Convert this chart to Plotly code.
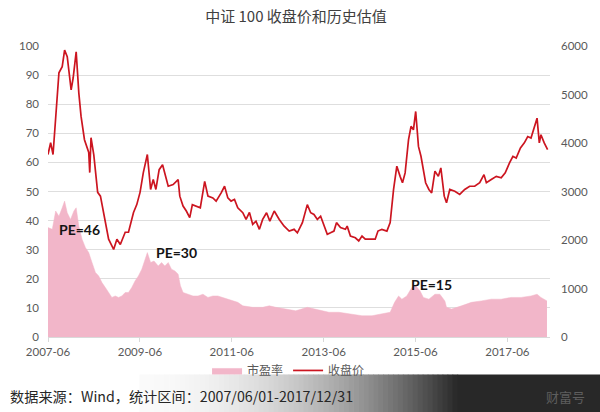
import plotly.graph_objects as go

# ---------------- data ----------------
price_dates = [
    "2007-06-01", "2007-06-22", "2007-07-11", "2007-08-09", "2007-08-27", "2007-09-22",
    "2007-10-11", "2007-11-01", "2007-12-02", "2007-12-18", "2008-01-11", "2008-02-01",
    "2008-02-19", "2008-03-17", "2008-04-20", "2008-04-28", "2008-05-08", "2008-05-30",
    "2008-06-12", "2008-06-30", "2008-07-22", "2008-08-17", "2008-09-12", "2008-09-25",
    "2008-11-04", "2008-11-30", "2008-12-27", "2009-02-04", "2009-03-02", "2009-04-11",
    "2009-05-07", "2009-06-02", "2009-06-28", "2009-07-30", "2009-08-25", "2009-09-15",
    "2009-10-06", "2009-11-01", "2009-11-28", "2009-12-16", "2010-01-12", "2010-02-20",
    "2010-04-01", "2010-04-14", "2010-05-10", "2010-06-05", "2010-07-02", "2010-07-23",
    "2010-08-23", "2010-09-24", "2010-10-29", "2010-11-24", "2011-01-02", "2011-01-28",
    "2011-03-09", "2011-04-05", "2011-05-01", "2011-05-27", "2011-06-23", "2011-07-19",
    "2011-08-28", "2011-09-23", "2011-10-20", "2011-11-15", "2011-12-11", "2012-01-07",
    "2012-02-02", "2012-03-04", "2012-03-30", "2012-05-04", "2012-06-13", "2012-07-22",
    "2012-08-31", "2012-10-09", "2012-11-04", "2012-12-14", "2013-01-22", "2013-02-18",
    "2013-03-16", "2013-04-12", "2013-05-08", "2013-06-04", "2013-06-30", "2013-07-26",
    "2013-08-22", "2013-09-11", "2013-10-13", "2013-11-21", "2013-12-05", "2013-12-31",
    "2014-02-08", "2014-03-07", "2014-04-02", "2014-04-28", "2014-06-07", "2014-07-16",
    "2014-08-07", "2014-09-07", "2014-10-17", "2014-11-12", "2014-12-09", "2015-01-04",
    "2015-01-30", "2015-02-18", "2015-03-11", "2015-04-07", "2015-04-27", "2015-05-16",
    "2015-06-03", "2015-06-25", "2015-07-15", "2015-08-03", "2015-08-21", "2015-09-16",
    "2015-10-08", "2015-11-03", "2015-11-30", "2015-12-20", "2016-01-16", "2016-02-03",
    "2016-02-29", "2016-04-09", "2016-05-18", "2016-06-27", "2016-08-05", "2016-09-14",
    "2016-10-24", "2016-11-27", "2016-12-16", "2017-01-24", "2017-03-05", "2017-04-13",
    "2017-05-15", "2017-06-18", "2017-07-15", "2017-08-10", "2017-09-13", "2017-10-14",
    "2017-11-10", "2017-12-06", "2018-01-01", "2018-01-23", "2018-02-10", "2018-02-23",
    "2018-03-21", "2018-04-17",
]
close_price = [
    3762, 4008, 3762, 4752, 5448, 5574,
    5916, 5778, 5094, 5340, 5880, 5034,
    4548, 4068, 3804, 3390, 4110, 3762,
    3390, 2982, 2904, 2568, 2220, 2016,
    1806, 2016, 1908, 2160, 2160, 2568,
    2730, 2982, 3390, 3762, 3042, 3246,
    3042, 3450, 3552, 3390, 3108, 3144,
    3246, 2904, 2700, 2598, 2460, 2730,
    2700, 2664, 3210, 2904, 2868, 2802,
    2970, 3108, 2868, 2802, 2838, 2664,
    2562, 2424, 2568, 2322, 2388, 2220,
    2424, 2562, 2388, 2598, 2424, 2286,
    2184, 2220, 2148, 2358, 2730, 2562,
    2526, 2424, 2490, 2286, 2118, 2148,
    2184, 2358, 2256, 2220, 2286, 2082,
    2046, 1980, 2082, 2016, 2016, 2016,
    2184, 2220, 2184, 2358, 3042, 3522,
    3312, 3180, 3384, 4068, 4344, 4272,
    4650, 3930, 3726, 3450, 3180, 3042,
    2970, 3420, 3312, 3486, 2904, 2766,
    3042, 3006, 2940, 3042, 3108, 3108,
    3180, 3348, 3180, 3246, 3312, 3282,
    3384, 3588, 3726, 3690, 3900, 4002,
    4134, 4104, 4344, 4512, 4002, 4170,
    4002, 3864,
]

pe_dates = [
    "2007-06-01", "2007-07-05", "2007-08-01", "2007-08-27", "2007-09-22", "2007-10-11",
    "2007-11-01", "2007-11-27", "2007-12-24", "2008-01-11", "2008-02-01", "2008-02-27",
    "2008-03-25", "2008-04-20", "2008-05-16", "2008-06-12", "2008-07-08", "2008-08-03",
    "2008-08-30", "2008-09-25", "2008-10-21", "2008-11-17", "2008-12-13", "2009-01-08",
    "2009-02-04", "2009-03-02", "2009-03-28", "2009-04-24", "2009-05-20", "2009-06-16",
    "2009-07-07", "2009-07-30", "2009-08-25", "2009-09-21", "2009-10-25", "2009-11-20",
    "2009-12-16", "2010-01-12", "2010-02-07", "2010-03-06", "2010-04-01", "2010-04-19",
    "2010-05-10", "2010-06-19", "2010-07-28", "2010-09-06", "2010-10-15", "2010-11-24",
    "2011-01-02", "2011-02-11", "2011-03-22", "2011-05-01", "2011-06-09", "2011-07-19",
    "2011-08-28", "2011-11-15", "2012-02-02", "2012-03-26", "2012-05-17", "2012-08-04",
    "2012-10-22", "2013-01-22", "2013-03-16", "2013-05-21", "2013-07-13", "2013-09-30",
    "2014-01-13", "2014-04-02", "2014-06-20", "2014-09-07", "2014-11-12", "2014-12-17",
    "2015-01-18", "2015-02-13", "2015-03-24", "2015-05-03", "2015-06-03", "2015-07-07",
    "2015-08-03", "2015-09-16", "2015-11-03", "2015-12-12", "2016-01-21", "2016-02-03",
    "2016-03-14", "2016-06-01", "2016-08-19", "2016-11-06", "2017-01-24", "2017-04-13",
    "2017-07-01", "2017-09-18", "2017-12-06", "2018-01-23", "2018-02-23", "2018-04-12",
]
pe_ratio = [
    37.6, 37.0, 43.3, 41.5, 44.4, 46.7,
    42.7, 40.4, 43.3, 44.4, 38.1, 33.6,
    30.7, 29.0, 25.6, 22.2, 21.0, 18.7,
    17.0, 15.3, 13.6, 14.1, 13.6, 14.1,
    15.3, 15.3, 17.0, 19.3, 21.0, 23.3,
    26.0, 29.0, 25.6, 26.1, 24.4, 25.6,
    24.4, 25.6, 23.3, 22.7, 21.6, 17.6,
    15.3, 14.7, 14.1, 14.1, 14.7, 13.6,
    14.1, 14.1, 13.6, 13.0, 12.4, 11.9,
    10.7, 10.2, 10.2, 10.7, 10.2, 9.6,
    9.0, 10.2, 9.6, 9.0, 8.5, 8.5,
    7.9, 7.3, 7.3, 7.9, 8.5, 11.9,
    14.1, 13.0, 14.1, 17.0, 17.6, 15.9,
    13.6, 13.0, 14.7, 14.7, 12.4, 10.2,
    9.6, 10.7, 11.9, 12.4, 13.0, 13.0,
    13.6, 13.6, 14.1, 14.7, 13.6, 12.4,
]

pe_labels = ["PE=46", "PE=30", "PE=15"]
pe_label_dates = ["2008-02-05", "2010-03-20", "2015-10-10"]
pe_label_values = [37.0, 29.0, 18.0]

series_names = ["市盈率", "收盘价"]
title_text = "中证 100 收盘价和历史估值"
source_text = "数据来源：Wind，统计区间：2007/06/01-2017/12/31"
watermark_text = "财富号"

# ---------------- figure ----------------
W, H = 600, 412
L, R, T, B = 48, 47, 46, 74.5
plot_w = W - L - R
plot_h = H - T - B


def px_x(x):
    return (x - L) / plot_w


def px_y(y):
    return (H - B - y) / plot_h


fig = go.Figure()

fig.add_trace(go.Scatter(
    x=pe_dates, y=pe_ratio, name=series_names[0],
    mode="lines", line=dict(color="#f2b6c9", width=0.5),
    fill="tozeroy", fillcolor="#f2b6c9", yaxis="y",
))
fig.add_trace(go.Scatter(
    x=price_dates, y=close_price, name=series_names[1],
    mode="lines", line=dict(color="#cc1520", width=1.7),
    yaxis="y2",
))

for txt, d, v in zip(pe_labels, pe_label_dates, pe_label_values):
    fig.add_annotation(
        x=d, y=v, xref="x", yref="y", text=txt, showarrow=False,
        font=dict(family="Lato, Liberation Sans, sans-serif", size=14, color="#141414", weight="bold"),
    )

# bottom gradient band (decoration)
shapes = []
x0, x1 = 140, 460
n = 64
for i in range(n):
    xa = x0 + (x1 - x0) * i / n
    xb = x0 + (x1 - x0) * (i + 1) / n + 0.6
    t = (i + 0.5) / n
    g = int(round(250 - 210 * t * t))
    shapes.append(dict(
        type="rect", xref="paper", yref="paper", layer="above",
        x0=px_x(xa), x1=px_x(xb), y0=px_y(375), y1=px_y(415),
        fillcolor=f"rgb({g},{g},{g})", line=dict(width=0),
    ))
shapes.append(dict(
    type="rect", xref="paper", yref="paper", layer="above",
    x0=px_x(x1), x1=px_x(605), y0=px_y(375), y1=px_y(415),
    fillcolor="rgb(40,40,40)", line=dict(width=0),
))

fig.add_annotation(
    x=px_x(8), y=px_y(397), xref="paper", yref="paper", xanchor="left", yanchor="middle",
    text=source_text, showarrow=False,
    font=dict(family="Noto Sans CJK SC, sans-serif", size=14.2, color="#262626"),
)
fig.add_annotation(
    x=px_x(569), y=px_y(397), xref="paper", yref="paper", xanchor="center", yanchor="middle",
    text=watermark_text, showarrow=False,
    font=dict(family="Noto Sans CJK SC, sans-serif", size=13, color="#5e5e5e"),
)

tick_font = dict(family="Lato, Liberation Sans, sans-serif", size=11.5, color="#595959")

fig.update_layout(
    width=W, height=H,
    margin=dict(l=L, r=R, t=T, b=B, pad=0),
    paper_bgcolor="white", plot_bgcolor="white",
    title=dict(
        text=title_text, x=296 / W, xanchor="center", y=1 - 17 / H, yanchor="middle",
        font=dict(family="Noto Sans CJK SC, sans-serif", size=15, color="#404040"),
    ),
    xaxis=dict(
        type="date", range=["2007-06-01", "2018-05-06"],
        tick0="2007-06-01", dtick="M24", tickformat="%Y-%m",
        showgrid=False, showline=False, zeroline=False,
        ticks="outside", ticklen=4, tickcolor="#d9d9d9",
        tickfont=tick_font,
    ),
    yaxis=dict(
        range=[0, 100], dtick=10, showgrid=True, gridcolor="#dedede", gridwidth=1,
        zeroline=True, zerolinecolor="#d9d9d9", zerolinewidth=1,
        showline=False, ticks="", tickfont=tick_font, ticklabelstandoff=8,
    ),
    yaxis2=dict(
        range=[0, 6000], dtick=1000, overlaying="y", side="right",
        showgrid=False, zeroline=False, showline=False, ticks="",
        tickfont=tick_font, ticklabelstandoff=10,
    ),
    legend=dict(
        orientation="h", x=px_x(290), xanchor="center", y=px_y(371), yanchor="middle",
        font=dict(family="Noto Sans CJK SC, sans-serif", size=12, color="#595959"),
        bgcolor="rgba(0,0,0,0)", itemwidth=30, tracegroupgap=0,
    ),
    shapes=shapes,
    showlegend=True,
)

fig.write_html(
    "out.html",
    config={"displayModeBar": False},
    post_script="document.body.style.margin='0';document.body.style.overflow='hidden';",
)
